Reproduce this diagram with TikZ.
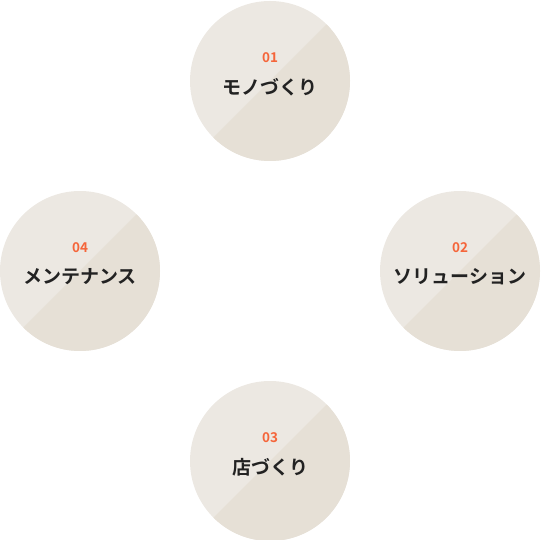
\documentclass[tikz,border=0pt]{standalone}
\usepackage{fontspec}
\usepackage{xcolor}
\newfontfamily\jpfont{Noto Sans CJK JP}[BoldFont={* Bold}]
\definecolor{disclight}{HTML}{ECE8E2}
\definecolor{discdark}{HTML}{E6E0D6}
\definecolor{numorange}{HTML}{F5653A}
\definecolor{labelink}{HTML}{222222}

\tikzset{
  disc/.style={circle,fill=disclight,minimum size=160pt,inner sep=0pt},
  numlabel/.style={text=numorange,font=\jpfont\bfseries\fontsize{13.5}{13.5}\selectfont},
  titlelabel/.style={text=labelink,font=\jpfont\bfseries\fontsize{19}{19}\selectfont}
}

\begin{document}
\begin{tikzpicture}[x=1pt,y=1pt]
\useasboundingbox (0,0) rectangle (540,540);

% four discs, lower right half a bit darker
\node[disc] (mono) at (270,459) {};
\fill[discdark] (mono.center) ++(45:80) arc (45:-135:80) -- cycle;
\node[disc] (sol) at (460,269) {};
\fill[discdark] (sol.center) ++(45:80) arc (45:-135:80) -- cycle;
\node[disc] (mise) at (270,79) {};
\fill[discdark] (mise.center) ++(45:80) arc (45:-135:80) -- cycle;
\node[disc] (maint) at (80,269) {};
\fill[discdark] (maint.center) ++(45:80) arc (45:-135:80) -- cycle;

% numbers and titles
\node[numlabel] (mononum) at (270,482) {01};
\node[titlelabel] (monotxt) at (270,453) {モノづくり};
\node[numlabel] (solnum) at (460,292) {02};
\node[titlelabel] (soltxt) at (460,263) {ソリューション};
\node[numlabel] (misenum) at (270,102) {03};
\node[titlelabel] (misetxt) at (270,73) {店づくり};
\node[numlabel] (maintnum) at (80,292) {04};
\node[titlelabel] (mainttxt) at (80,263) {メンテナンス};

\end{tikzpicture}
\end{document}
